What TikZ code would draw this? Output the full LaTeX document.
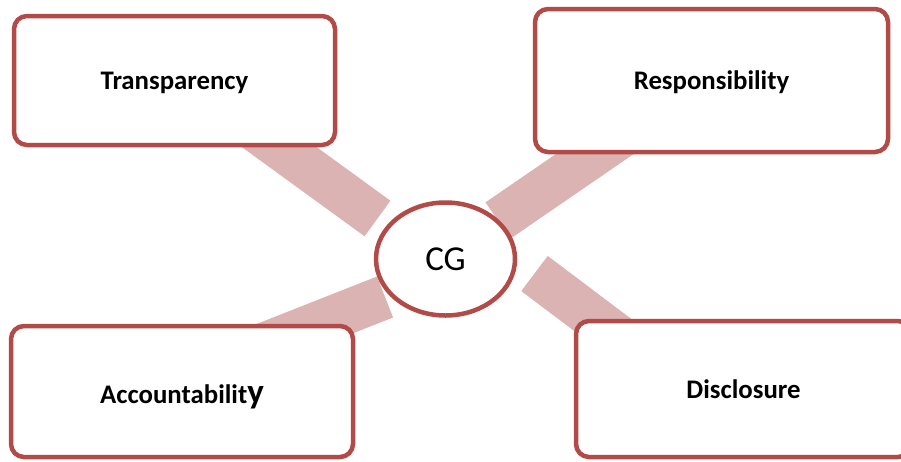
\documentclass[tikz,border=0pt]{standalone}
\usepackage{fontspec}
\setmainfont{Carlito}
\usetikzlibrary{shapes.geometric}
\definecolor{rim}{RGB}{178,75,71}
\definecolor{spokepink}{RGB}{220,179,179}
\tikzset{
  card/.style={draw=rim, line width=4.5pt, fill=white, rounded corners=13pt,
    inner sep=0pt, font=\bfseries\fontsize{26.8}{30}\selectfont,
    text height=18pt, text depth=0pt},
  hub/.style={ellipse, draw=rim, line width=4.5pt, fill=white, inner sep=0pt,
    minimum width=139pt, minimum height=113pt,
    font=\fontsize{35}{42}\selectfont, text height=22pt, text depth=0pt},
  spoke/.style={draw=spokepink, line width=44pt},
}
\begin{document}
\begin{tikzpicture}[x=1pt, y=-1pt]
  \clip (0,0) rectangle (901,461);
  \fill[white] (0,0) rectangle (901,461);

  % spoke end points: inner ends near the hub, outer ends hidden under the cards
  \coordinate (t-in)  at (377.5,218.5);
  \coordinate (t-out) at (215.7,100.9);
  \coordinate (r-in)  at (498,220.5);
  \coordinate (r-out) at (662.8,107.3);
  \coordinate (a-in)  at (385,297);
  \coordinate (a-out) at (217.6,363);
  \coordinate (d-in)  at (534.5,273.5);
  \coordinate (d-out) at (654.3,363.8);

  \draw[spoke] (t-in) -- (t-out);
  \draw[spoke] (r-in) -- (r-out);
  \draw[spoke] (a-in) -- (a-out);
  \draw[spoke] (d-in) -- (d-out);

  % hub and cards
  \node[hub] (cg) at (445.5,259) {CG};
  \node[card, minimum width=321pt, minimum height=129pt] (tbox) at (174.5,80.5) {Transparency};
  \node[card, minimum width=353pt, minimum height=143pt] (rbox) at (711.5,80.5) {Responsibility};
  \node[card, minimum width=342pt, minimum height=131pt, text height=23pt] (abox) at (182,391.5)
    {Accountabilit{\fontsize{35}{35}\selectfont y}};
  \node[card, minimum width=335pt, minimum height=136pt] (dbox) at (743.5,389) {Disclosure};
\end{tikzpicture}
\end{document}
